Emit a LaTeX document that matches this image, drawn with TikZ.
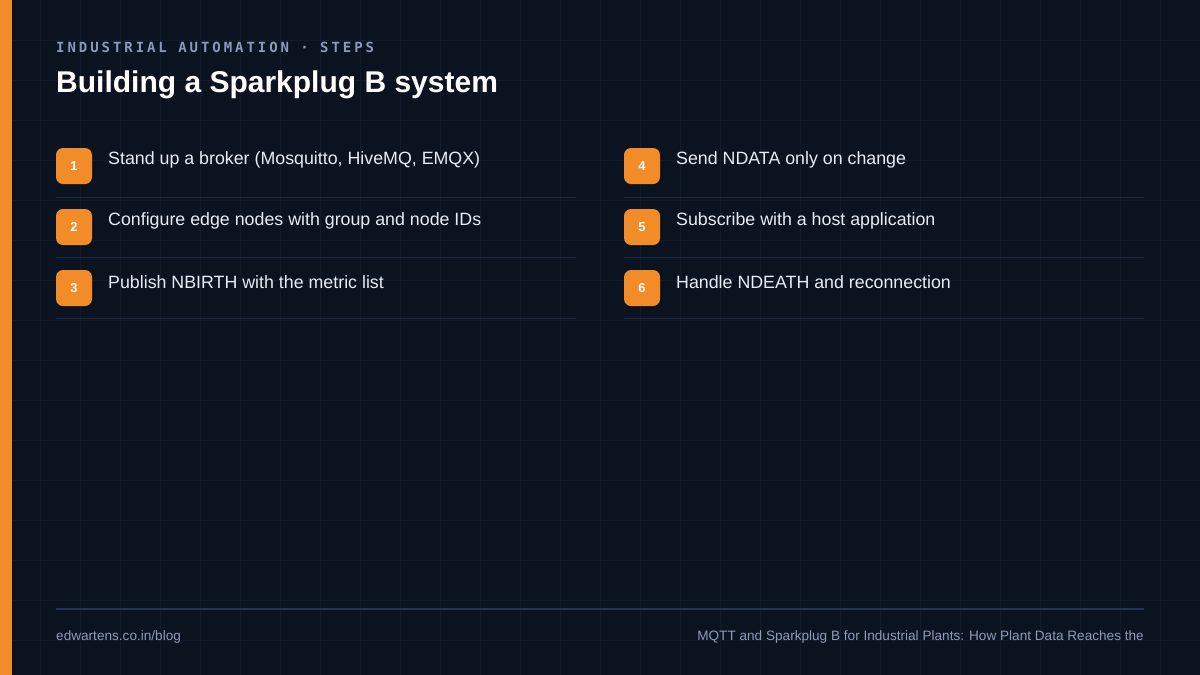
\documentclass[tikz,border=0pt]{standalone}
\usepackage{fontspec}
\setmainfont{Liberation Sans}
\newfontfamily\kick[LetterSpace=21]{DejaVu Sans Mono}
\begin{document}
\begin{tikzpicture}[x=1pt,y=-1pt,
  badge/.style={fill=orn,rounded corners=7pt,minimum width=36pt,minimum height=36pt,inner sep=0pt,text=white,font=\bfseries\fontsize{13}{13}\selectfont},
  steptxt/.style={anchor=west,text=stxt,inner sep=0pt,font=\fontsize{17.8}{17.8}\selectfont},
  sep/.style={draw=sepc,line width=1pt},
  foot/.style={text=ftxt,inner sep=0pt,font=\fontsize{13.6}{13.6}\selectfont}]
\definecolor{bg}{HTML}{0B1220}
\definecolor{gridc}{HTML}{121B2B}
\definecolor{orn}{HTML}{F28C28}
\definecolor{stxt}{HTML}{E8ECF4}
\definecolor{sepc}{HTML}{1C2940}
\definecolor{ftxt}{HTML}{8E9CB8}
\definecolor{kc}{HTML}{8A9AB8}
\definecolor{fline}{HTML}{233250}
\useasboundingbox (0,0) rectangle (1200,675);
\fill[bg] (0,0) rectangle (1200,675);
\foreach \x in {40,80,...,1160} \draw[gridc,line width=1pt] (\x,0) -- (\x,675);
\foreach \y in {40,80,...,640} \draw[gridc,line width=1pt] (0,\y) -- (1200,\y);
\fill[orn] (0,0) rectangle (12,675);
\node[anchor=west,inner sep=0pt,text=kc,font=\kick\bfseries\fontsize{14}{14}\selectfont] (kicker) at (56,47) {INDUSTRIAL AUTOMATION · STEPS};
\node[anchor=west,inner sep=0pt,text=white,font=\bfseries\fontsize{30}{30}\selectfont] (title) at (56,85) {Building a Sparkplug B system};
\node[badge] (b1) at (74,166) {1};
\node[steptxt] (t1) at (108,160) {Stand up a broker (Mosquitto, HiveMQ, EMQX)};
\node[badge] (b2) at (74,227) {2};
\node[steptxt] (t2) at (108,221) {Configure edge nodes with group and node IDs};
\node[badge] (b3) at (74,288) {3};
\node[steptxt] (t3) at (108,282) {Publish NBIRTH with the metric list};
\node[badge] (b4) at (642,166) {4};
\node[steptxt] (t4) at (676,160) {Send NDATA only on change};
\node[badge] (b5) at (642,227) {5};
\node[steptxt] (t5) at (676,221) {Subscribe with a host application};
\node[badge] (b6) at (642,288) {6};
\node[steptxt] (t6) at (676,282) {Handle NDEATH and reconnection};
\foreach \y in {197,257,318} {\draw[sep] (56,\y) -- (576,\y); \draw[sep] (624,\y) -- (1144,\y);}
\draw[fline,line width=1.2pt] (56,609) -- (1144,609);
\node[foot,anchor=west] (f1) at (56,637) {edwartens.co.in/blog};
\node[foot,anchor=east] (f2) at (1144,637) {MQTT and Sparkplug B for Industrial Plants: How Plant Data Reaches the};
\end{tikzpicture}
\end{document}
